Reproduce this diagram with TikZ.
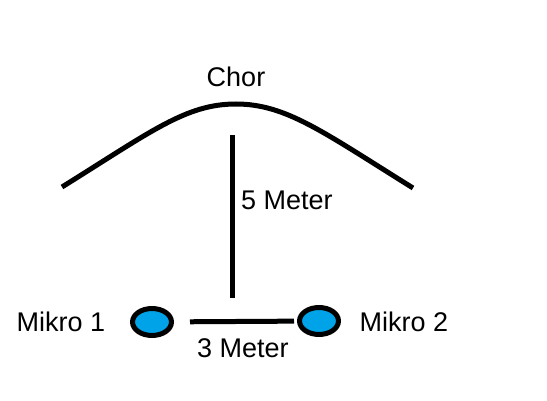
\documentclass[tikz,border=0pt]{standalone}
\usepackage{fontspec}
\setmainfont{Liberation Sans}
\usetikzlibrary{shapes.geometric}
\definecolor{paintblau}{RGB}{0,162,232}
\begin{document}
\begin{tikzpicture}
  [x=1pt, y=-1pt,
  mikro/.style={
    draw=black,
    fill=paintblau,
    ellipse,
    minimum width=39pt,
    minimum height=27pt,
    inner sep=0pt,
    line width=5pt},
  beschriftung/.style={
    font=\fontsize{27}{31}\selectfont,
    inner sep=0pt},
  linie/.style={
    line width=5pt}]

  \useasboundingbox (0,0) rectangle (547,401);

  \node [beschriftung] at (236,77) (chor) {Chor};

  \node [mikro] at (152,322) (mikro1) {};
  \node [mikro] at (319,321) (mikro2) {};

  \node [beschriftung] at (61,322) (name1) {Mikro 1};
  \node [beschriftung] at (404,322) (name2) {Mikro 2};

  \node [beschriftung, anchor=west] at (241,200) (abstand5) {5 Meter};
  \node [beschriftung] at (243,348) (abstand3) {3 Meter};

  \coordinate (oben) at (232,135);
  \coordinate (unten) at (232,298);

  \draw [linie] (62,187) .. controls (152,131) and (186,104) .. (236,104)
    .. controls (286,104) and (323,132) .. (413,188);
  \draw [linie] (oben) -- (unten);
  \draw [linie, shorten <=16pt, shorten >=3pt, yshift=2pt] (mikro1) -- (mikro2);
\end{tikzpicture}
\end{document}
